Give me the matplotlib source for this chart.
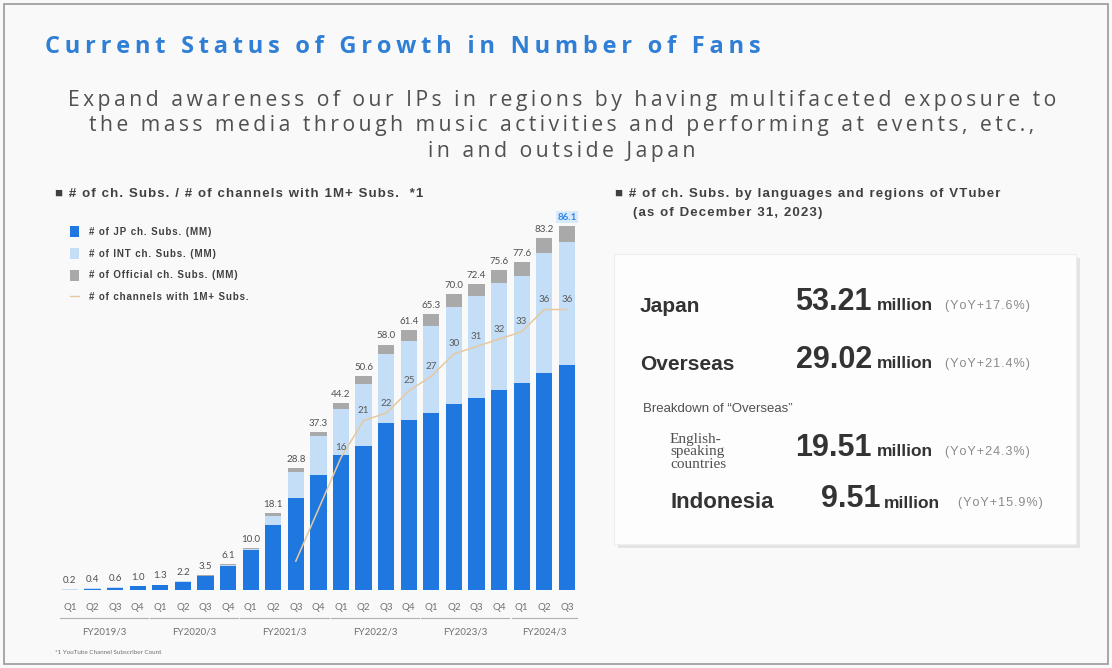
import numpy as np
import matplotlib.pyplot as plt
from matplotlib.patches import Rectangle, FancyBboxPatch
from matplotlib.lines import Line2D
from matplotlib.transforms import blended_transform_factory

# ---- data ----
quarters = ["Q1", "Q2", "Q3", "Q4"] * 5 + ["Q1", "Q2", "Q3"]
years = ["FY2019/3", "FY2020/3", "FY2021/3", "FY2022/3", "FY2023/3", "FY2024/3"]
year_len = [4, 4, 4, 4, 4, 3]
totals = [0.2, 0.4, 0.6, 1.0, 1.3, 2.2, 3.5, 6.1, 10.0, 18.1, 28.8, 37.3,
          44.2, 50.6, 58.0, 61.4, 65.3, 70.0, 72.4, 75.6, 77.6, 83.2, 86.1]
jp_subs = [0.1, 0.3, 0.5, 0.9, 1.2, 2.0, 3.2, 5.7, 9.5, 15.4, 21.7, 27.2,
           31.9, 34.0, 39.5, 40.2, 41.8, 44.0, 45.4, 47.3, 48.9, 51.3, 53.2]
official_subs = [0.0, 0.0, 0.0, 0.0, 0.0, 0.1, 0.1, 0.2, 0.2, 0.5, 0.8, 1.0,
                 1.5, 1.8, 2.2, 2.6, 2.8, 3.0, 3.0, 3.1, 3.4, 3.6, 3.9]
int_subs = [round(t - j - o, 1) for t, j, o in zip(totals, jp_subs, official_subs)]
ch_start = 10
ch_1m = [2, 9, 16, 21, 22, 25, 27, 30, 31, 32, 33, 36, 36]
ch_labels = [None, None, 16, 21, 22, 25, 27, 30, 31, 32, 33, 36, 36]

regions = ["Japan", "Overseas"]
region_vals = ["53.21", "29.02"]
region_yoy = ["(YoY+17.6%)", "(YoY+21.4%)"]
sub_regions = ["English-\nspeaking\ncountries", "Indonesia"]
sub_vals = ["19.51", "9.51"]
sub_yoy = ["(YoY+24.3%)", "(YoY+15.9%)"]

C_JP = "#1f78e0"
C_INT = "#c3def6"
C_OFF = "#a9a9a9"
C_LINE = "#e6c9a0"

W, H = 1112, 668
def fx(x): return x / W
def fy(y): return 1 - y / H

def spaced(s, sp="\u2009"):
    # the slide uses letter-spaced text
    return "\n".join(sp.join(line) for line in s.split("\n"))

HAIR = "\u200a"
SANS = ["Liberation Sans", "DejaVu Sans"]
plt.rcParams["font.family"] = ["Lato", "DejaVu Sans"]
fig = plt.figure(figsize=(W / 100, H / 100), dpi=100, facecolor="#f9f9f9")

# frame
fig.patches.append(Rectangle((fx(4), fy(664)), fx(1104), 660 / H, transform=fig.transFigure,
                             fill=False, edgecolor="#9a9a9a", lw=1.2))

fig.text(fx(45), fy(47), spaced("Current Status of Growth in Number of Fans"), color="#2f7fd6",
         fontsize=17, fontweight="bold", va="center", ha="left", family=["Open Sans", "DejaVu Sans"])
sub = ("Expand awareness of our IPs in regions by having multifaceted exposure to\n"
       "the mass media through music activities and performing at events, etc.,\n"
       "in and outside Japan")
fig.text(fx(562), fy(126), spaced(sub), color="#505050", fontsize=15.2, ha="center", va="center",
         linespacing=1.3, family=["Open Sans", "DejaVu Sans"])

fig.text(fx(55), fy(194), spaced("■ # of ch. Subs. / # of channels with 1M+ Subs.  *1", HAIR),
         color="#404040", fontsize=9.5, fontweight="bold", va="center", family=SANS)
fig.text(fx(615), fy(194), spaced("■ # of ch. Subs. by languages and regions of VTuber", HAIR),
         color="#404040", fontsize=9.5, fontweight="bold", va="center", family=SANS)
fig.text(fx(633), fy(213), spaced("(as of December 31, 2023)", HAIR), color="#404040",
         fontsize=9.5, fontweight="bold", va="center", family=SANS)

# ---- bar chart ----
x = np.arange(len(totals))
ax = fig.add_axes([fx(56.4), fy(590), 524 / W, 390 / H])
ax.set_facecolor("none")
b1 = ax.bar(x, jp_subs, width=0.72, color=C_JP, zorder=2)
b2 = ax.bar(x, int_subs, width=0.72, bottom=jp_subs, color=C_INT, zorder=2)
b3 = ax.bar(x, official_subs, width=0.72, bottom=np.add(jp_subs, int_subs), color=C_OFF, zorder=2)
ax.set_xlim(-0.6, len(totals) - 0.4)
ax.set_ylim(0, 92.2)
for s in ax.spines.values():
    s.set_visible(False)
ax.set_yticks([])
ax.set_xticks(x)
ax.set_xticklabels(quarters, fontsize=7, color="#707070")
ax.tick_params(axis="x", length=0, pad=9)

for i, t in enumerate(totals):
    last = i == len(totals) - 1
    ax.annotate(f"{t:.1f}", (i, t), xytext=(0, 3), textcoords="offset points", ha="center",
                va="bottom", fontsize=7, color="#2f86e6" if last else "#505050",
                fontweight="bold" if last else "normal",
                bbox=dict(boxstyle="square,pad=0.15", fc="#d9ebfb", ec="none") if last else None)

ax2 = ax.twinx()
ax2.set_ylim(-1.9, 50.8)
ax2.axis("off")
xl = x[ch_start:]
ax2.plot(xl, ch_1m, color=C_LINE, lw=1.1, zorder=3)
for xi, lab, v in zip(xl, ch_labels, ch_1m):
    if lab is not None:
        ax2.annotate(str(lab), (xi, v), xytext=(0, 4), textcoords="offset points", ha="center",
                     va="bottom", fontsize=7, color="#5a5a5a", zorder=4)

# year groups
tr = blended_transform_factory(ax.transData, ax.transAxes)
start = 0
for yname, n in zip(years, year_len):
    x0, x1 = start - 0.45, start + n - 1 + 0.45
    ax.add_line(Line2D([x0, x1], [-0.072, -0.072], transform=tr, color="#b0b0b0", lw=0.8, clip_on=False))
    ax.text((x0 + x1) / 2, -0.108, yname, transform=tr, ha="center", va="center",
            fontsize=7, color="#707070")
    start += n

fig.text(fx(55), fy(652), "*1 YouTube Channel Subscriber Count", fontsize=4.5, color="#707070", va="center")

ax.legend([b1, b2, b3, Line2D([0], [0], color=C_LINE, lw=1)],
          [spaced(s, HAIR) for s in ["# of JP ch. Subs. (MM)", "# of INT ch. Subs. (MM)",
                                     "# of Official ch. Subs. (MM)", "# of channels with 1M+ Subs."]],
          loc="upper left", bbox_to_anchor=(fx(61), fy(217)), bbox_transform=fig.transFigure,
          frameon=False, prop=dict(family=SANS, size=7, weight="bold"), handlelength=1.0,
          handleheight=1.4, labelspacing=1.1, handletextpad=1.0, labelcolor="#404040")

# ---- right panel ----
fig.patches.append(FancyBboxPatch((fx(618), fy(548)), fx(462), 290 / H, boxstyle="square,pad=0",
                                  transform=fig.transFigure, fc="#e4e4e4", ec="none", zorder=0))
fig.patches.append(FancyBboxPatch((fx(614), fy(544)), fx(462), 290 / H, boxstyle="square,pad=0",
                                  transform=fig.transFigure, fc="#fdfdfd", ec="#eeeeee", lw=0.8, zorder=1))

dark = "#333333"
for k, (reg, val, yoy) in enumerate(zip(regions, region_vals, region_yoy)):
    yy = [302, 360][k]
    fig.text(fx(640), fy(yy + 4), reg, fontsize=15, fontweight="bold", color=dark, va="center", family=SANS)
    fig.text(fx(872), fy(yy), val, fontsize=22, fontweight="bold", color=dark, va="center", ha="right",
             family=SANS)
    fig.text(fx(877), fy(yy + 4), "million", fontsize=12.5, fontweight="bold", color=dark, va="center",
             family=SANS)
    fig.text(fx(945), fy(yy + 4), spaced(yoy, HAIR), fontsize=9, color="#8a8a8a", va="center", family=SANS)

fig.text(fx(643), fy(409), "Breakdown of \u201cOverseas\u201d", fontsize=9.5, color="#505050", va="center",
         family=SANS)
for k, (reg, val, yoy) in enumerate(zip(sub_regions, sub_vals, sub_yoy)):
    yy = [448, 499][k]
    if k == 0:
        fig.text(fx(670), fy(452), reg, fontsize=11, color="#505050", va="center", linespacing=1.0,
                 multialignment="left", family=["Liberation Serif", "DejaVu Serif"])
        vx, mx, yx = 872, 877, 945
    else:
        fig.text(fx(670), fy(yy + 3), reg, fontsize=16, fontweight="bold", color=dark, va="center",
                 family=SANS)
        vx, mx, yx = 880, 884, 958
    fig.text(fx(vx), fy(yy), val, fontsize=22, fontweight="bold", color=dark, va="center", ha="right",
             family=SANS)
    fig.text(fx(mx), fy(yy + 4), "million", fontsize=12.5, fontweight="bold", color=dark, va="center",
             family=SANS)
    fig.text(fx(yx), fy(yy + 4), spaced(yoy, HAIR), fontsize=9, color="#8a8a8a", va="center", family=SANS)

plt.savefig("out.png", dpi=100, facecolor=fig.get_facecolor())
